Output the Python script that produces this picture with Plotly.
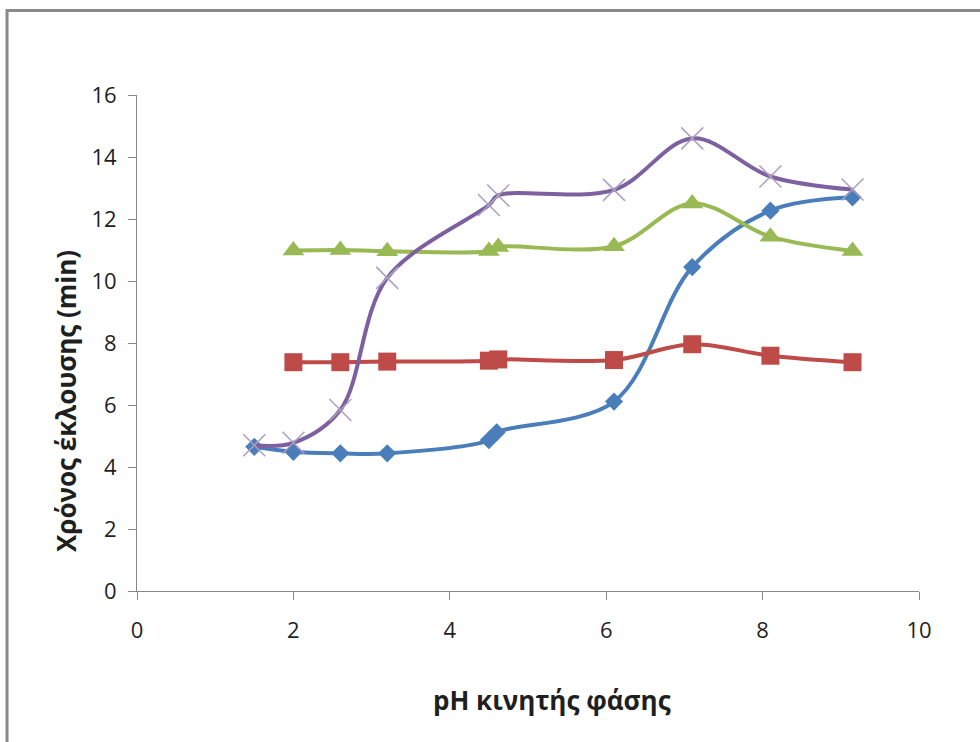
import plotly.graph_objects as go

# Mobile-phase pH values and measured elution times (min) for each compound
ph_blue = [1.5, 2.0, 2.6, 3.2, 4.5, 4.6, 6.1, 7.1, 8.1, 9.15]
t_blue = [4.65, 4.49, 4.44, 4.44, 4.87, 5.12, 6.11, 10.45, 12.27, 12.70]

ph_red = [2.0, 2.6, 3.2, 4.5, 4.62, 6.1, 7.1, 8.1, 9.15]
t_red = [7.38, 7.38, 7.40, 7.43, 7.47, 7.45, 7.96, 7.59, 7.38]

ph_green = [2.0, 2.6, 3.2, 4.5, 4.62, 6.1, 7.1, 8.1, 9.15]
t_green = [10.98, 11.0, 10.96, 10.97, 11.1, 11.12, 12.5, 11.43, 10.97]

ph_purple = [1.5, 2.0, 2.6, 3.2, 4.5, 4.62, 6.1, 7.1, 8.1, 9.15]
t_purple = [4.70, 4.78, 5.84, 10.10, 12.45, 12.76, 12.94, 14.60, 13.37, 12.95]

x_ticks = [0, 2, 4, 6, 8, 10]
y_ticks = [0, 2, 4, 6, 8, 10, 12, 14, 16]

FONT = "Open Sans"
TXT = "#1f1f1f"
AXIS = "#868686"
LW = 4

fig = go.Figure()

fig.add_trace(go.Scatter(
    x=ph_blue, y=t_blue, mode="lines+markers",
    line=dict(color="#4A7EBB", width=LW, shape="spline", smoothing=1.0),
    marker=dict(symbol="diamond", size=14, color="#4A7EBB"),
))
fig.add_trace(go.Scatter(
    x=ph_red, y=t_red, mode="lines+markers",
    line=dict(color="#BE4B48", width=LW, shape="spline", smoothing=1.0),
    marker=dict(symbol="square", size=18, color="#BE4B48"),
))
fig.add_trace(go.Scatter(
    x=ph_green, y=t_green, mode="lines+markers",
    line=dict(color="#98B954", width=LW, shape="spline", smoothing=1.0),
    marker=dict(symbol="triangle-up", size=19, color="#98B954"),
))
fig.add_trace(go.Scatter(
    x=ph_purple, y=t_purple, mode="lines+markers",
    line=dict(color="#7D60A0", width=LW, shape="spline", smoothing=1.0),
    marker=dict(symbol="x-thin", size=22, color="#A99FBF",
                line=dict(color="#A99FBF", width=1.5)),
))

# Outer chart frame (only left and top edges fall inside the page)
fig.add_shape(type="rect", xref="paper", yref="paper",
              x0=-0.1662, x1=1.3, y0=-0.5, y1=1.1704,
              line=dict(color="#8A8A8A", width=3), fillcolor="rgba(0,0,0,0)",
              layer="below")

# Axis titles
fig.add_annotation(text="<b>pH κινητής φάσης</b>", xref="paper", yref="paper",
                   x=0.531, y=-0.22, showarrow=False,
                   font=dict(family=FONT, size=26, color=TXT),
                   xanchor="center", yanchor="middle")
fig.add_annotation(text="<b>Χρόνος έκλουσης (min)</b>", xref="paper", yref="paper",
                   x=-0.0908, y=0.383, showarrow=False, textangle=-90,
                   font=dict(family=FONT, size=26, color=TXT),
                   xanchor="center", yanchor="middle")

fig.update_layout(
    width=980, height=742,
    margin=dict(l=137, r=61, t=95, b=151),
    paper_bgcolor="white", plot_bgcolor="white",
    showlegend=False,
    font=dict(family=FONT, color=TXT),
    xaxis=dict(range=[0, 10], tickvals=x_ticks, showgrid=False, zeroline=False,
               showline=True, linecolor=AXIS, linewidth=1,
               ticks="outside", ticklen=8, tickcolor=AXIS, ticklabelstandoff=12,
               tickfont=dict(family=FONT, size=22, color=TXT)),
    yaxis=dict(range=[0, 16], tickvals=y_ticks, showgrid=False, zeroline=False,
               showline=True, linecolor=AXIS, linewidth=1,
               ticks="outside", ticklen=8, tickcolor=AXIS, ticklabelstandoff=7,
               tickfont=dict(family=FONT, size=22, color=TXT)),
)

fig.write_html("out.html")
